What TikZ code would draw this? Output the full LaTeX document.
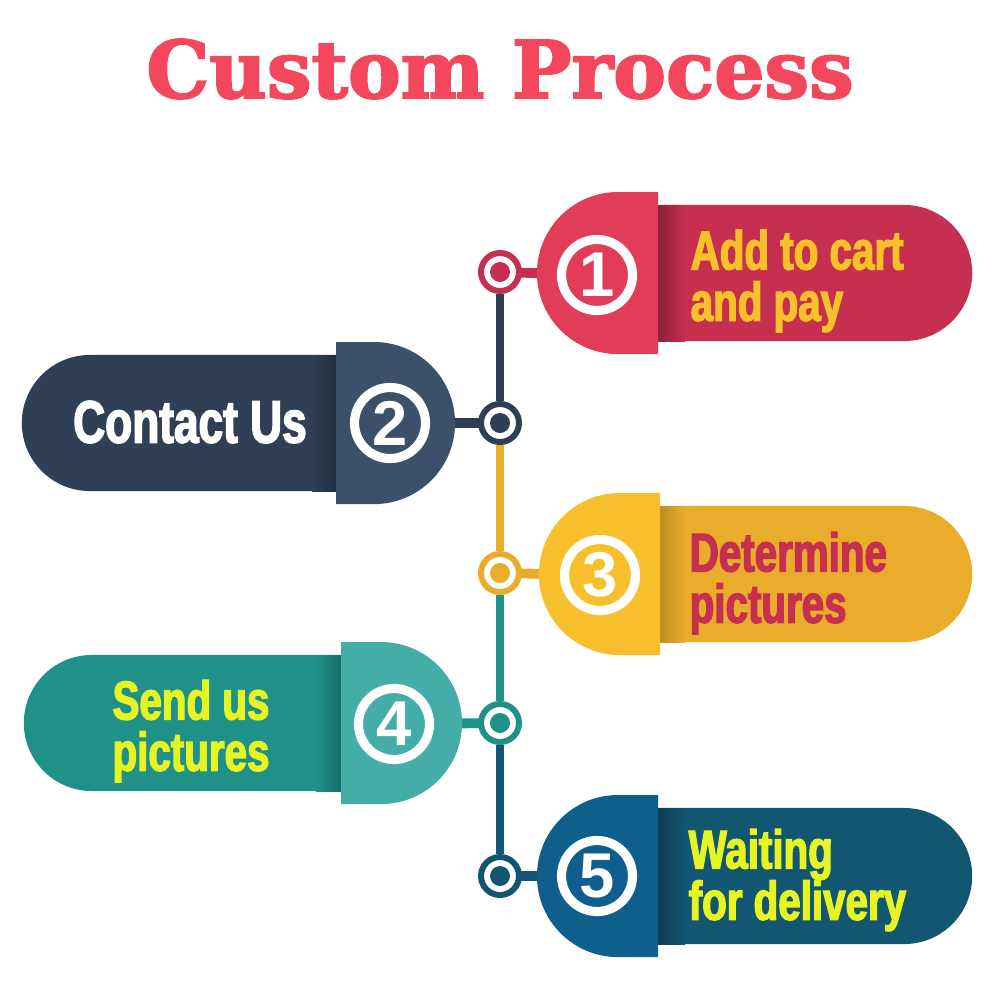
\documentclass[tikz,border=0pt]{standalone}
\usepackage{fontspec}
\setmainfont{Liberation Sans}
\newfontfamily\titlefont[FakeBold=2.5]{DejaVu Serif Bold}
\newfontfamily\stepfont[FakeStretch=0.74,FakeBold=2.5]{Liberation Sans Bold}
\newfontfamily\numfont{Liberation Sans Bold}
\usetikzlibrary{shapes.misc, positioning, calc, backgrounds}

\definecolor{titlered}{HTML}{F2475D}
\definecolor{redcap}{HTML}{E23D58}
\definecolor{redbody}{HTML}{C72F50}
\definecolor{navycap}{HTML}{3B5069}
\definecolor{navybody}{HTML}{2E3F56}
\definecolor{goldcap}{HTML}{F8BF2C}
\definecolor{goldbody}{HTML}{E9AD2B}
\definecolor{tealcap}{HTML}{45ADA8}
\definecolor{tealbody}{HTML}{1F9189}
\definecolor{bluecap}{HTML}{0F5F8C}
\definecolor{bluebody}{HTML}{125671}
\definecolor{txtgold}{HTML}{F8C12A}
\definecolor{txtlime}{HTML}{E6F424}

\begin{document}
\begin{tikzpicture}[
    x=0.01cm, y=-0.01cm,
    bodyR/.style={rounded rectangle, rounded rectangle left arc=none, minimum width=3.32cm, minimum height=1.36cm, inner sep=0pt, outer sep=0pt, fill=#1, anchor=west},
    bodyL/.style={rounded rectangle, rounded rectangle right arc=none, minimum width=3.28cm, minimum height=1.36cm, inner sep=0pt, outer sep=0pt, fill=#1, anchor=east},
    num/.style={circle, draw=white, line width=2.6pt, minimum size=0.71cm, inner sep=0pt, text=white, font=\numfont\fontsize{18}{18}\selectfont},
    hub/.style={circle, draw=#1, fill=white, line width=1.7pt, minimum size=0.38cm, inner sep=0pt, path picture={\fill[#1] (path picture bounding box.center) circle (0.1cm);}},
    wire/.style={line width=2pt},
    stub/.style={line width=2.8pt},
    steptext/.style={font=\stepfont\fontsize{15.5}{14.6}\selectfont, inner sep=0pt}
]
\useasboundingbox (0,0) rectangle (1000,984);

% ---- Title ----
\node[font=\titlefont\fontsize{22.5}{22.5}\selectfont, text=titlered] (title) at (500,69) {Custom Process};

% ---- Step bodies ----
\node[bodyR=redbody] (body1) at (640,273) {};
\node[bodyL=navybody] (body2) at (350,423) {};
\node[bodyR=goldbody] (body3) at (640,574) {};
\node[bodyL=tealbody] (body4) at (352,723) {};
\node[bodyR=bluebody] (body5) at (640,876) {};

% ---- Cap shadows ----
\shade[left color=redbody!70!black, right color=redbody] (658,205) rectangle (685,341);
\shade[left color=navybody, right color=navybody!70!black] (312,355) rectangle (337,491);
\shade[left color=goldbody!80!black, right color=goldbody] (658,506) rectangle (685,642);
\shade[left color=tealbody, right color=tealbody!75!black] (316,655) rectangle (341,791);
\shade[left color=bluebody!70!black, right color=bluebody] (658,808) rectangle (685,944);

% ---- Step caps ----
\fill[redcap] (658,192) -- (618,192) arc[start angle=90, end angle=270, radius=0.81cm] -- (658,354) -- cycle;
\fill[navycap] (336,342) -- (374,342) arc[start angle=90, end angle=-90, radius=0.81cm] -- (336,504) -- cycle;
\fill[goldcap] (660,493) -- (620,493) arc[start angle=90, end angle=270, radius=0.81cm] -- (660,655) -- cycle;
\fill[tealcap] (341,642) -- (381,642) arc[start angle=90, end angle=-90, radius=0.81cm] -- (341,804) -- cycle;
\fill[bluecap] (658,795) -- (618,795) arc[start angle=90, end angle=270, radius=0.81cm] -- (658,957) -- cycle;

% ---- Numbers ----
\node[num] (num1) at (597,275) {1};
\node[num] (num2) at (390,423) {2};
\node[num] (num3) at (600,575) {3};
\node[num] (num4) at (394,724) {4};
\node[num] (num5) at (597,876) {5};

% ---- Hubs on the timeline ----
\node[hub=redbody] (hub1) at (500,272) {};
\node[hub=navybody] (hub2) at (500,423) {};
\node[hub=goldbody] (hub3) at (500,573) {};
\node[hub=tealbody] (hub4) at (500,723) {};
\node[hub=bluebody] (hub5) at (500,876) {};

% ---- Labels ----
\node[steptext, anchor=west, align=left, text=txtgold] (lab1) at (690,281) {Add to cart\\and pay};
\node[steptext, font=\stepfont\fontsize{17}{17}\selectfont, text=white] (lab2) at (190,422) {Contact Us};
\node[steptext, anchor=west, align=left, text=redbody] (lab3) at (689,583) {Determine\\pictures};
\node[steptext, align=center, text=txtlime] (lab4) at (191,731) {Send us\\pictures};
\node[steptext, anchor=west, align=left, text=txtlime] (lab5) at (688,880) {Waiting\\for delivery};

% ---- Timeline and stubs ----
\begin{scope}[on background layer]
\draw[wire, navybody] (hub1) -- (hub2);
\draw[wire, goldbody] (hub2) -- (hub3);
\draw[wire, tealbody] (hub3) -- (hub4);
\draw[wire, bluebody] (hub4) -- (hub5);
\draw[stub, redbody] (hub1.center) -- (num1);
\draw[stub, navybody] (hub2.center) -- (num2);
\draw[stub, goldbody] (hub3.center) -- (num3);
\draw[stub, tealbody] (hub4.center) -- (num4);
\draw[stub, bluebody] (hub5.center) -- (num5);
\end{scope}
\end{tikzpicture}
\end{document}
